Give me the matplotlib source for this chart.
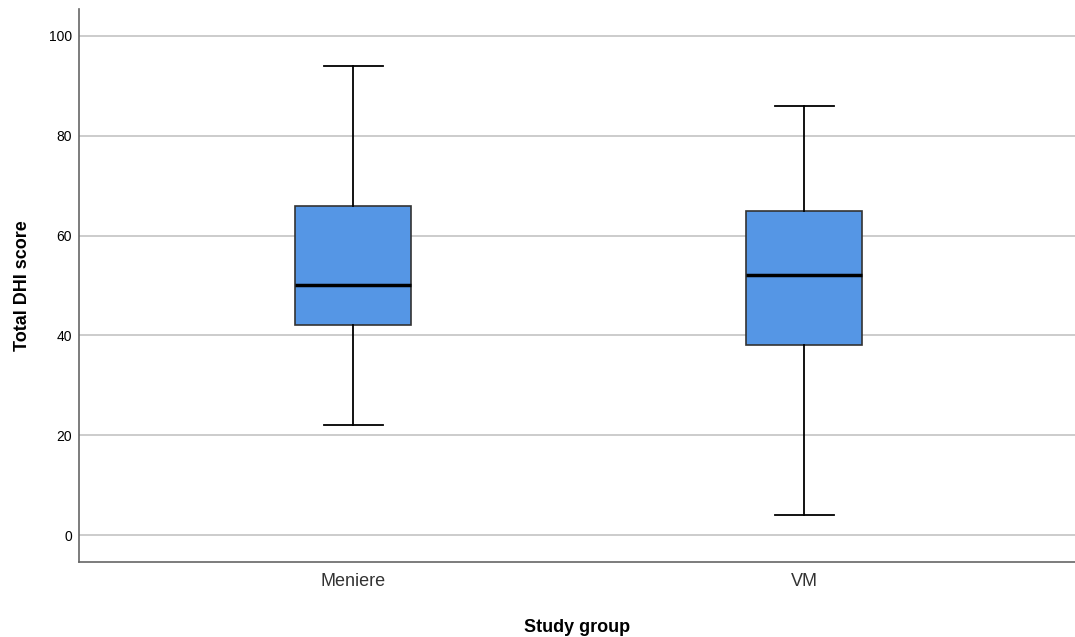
import numpy as np
import matplotlib
matplotlib.use("Agg")
import matplotlib.pyplot as plt

groups = ["Meniere", "VM"]
whisker_low = [22, 4]
q1 = [42, 38]
medians = [50, 52]
q3 = [66, 65]
whisker_high = [94, 86]
y_ticks = [0, 20, 40, 60, 80, 100]

plt.rcParams['font.family'] = ['Liberation Sans', 'DejaVu Sans']

stats = []
for i, g in enumerate(groups):
    stats.append({"label": g, "whislo": whisker_low[i], "q1": q1[i], "med": medians[i],
                  "q3": q3[i], "whishi": whisker_high[i], "fliers": []})

fig = plt.figure(figsize=(10.75, 6.37), dpi=100)
ax = fig.add_axes([0.0735, 0.1177, 0.9265, 0.8683])
ax.set_axisbelow(True)
ax.yaxis.grid(True, color="#c8c8c8", linewidth=1.3)

ax.bxp(stats, positions=[1, 2], widths=0.257, capwidths=0.13, patch_artist=True,
       boxprops=dict(facecolor="#5596e5", edgecolor="#333333", linewidth=1.2),
       medianprops=dict(color="black", linewidth=2.5),
       whiskerprops=dict(color="black", linewidth=1.3),
       capprops=dict(color="black", linewidth=1.3))

ax.set_xlim(0.392, 2.60)
ax.set_ylim(-5.4, 105.4)
ax.set_yticks(y_ticks)
ax.set_xticks([1, 2])
ax.set_xticklabels(groups, fontsize=13, color="#333333")
ax.tick_params(axis="y", labelsize=10, length=0, pad=5)
ax.tick_params(axis="x", length=0, pad=8)
for s in ["top", "right"]:
    ax.spines[s].set_visible(False)
for s in ["left", "bottom"]:
    ax.spines[s].set_color("#666666")
    ax.spines[s].set_linewidth(1.2)

ax.set_xlabel("Study group", fontsize=13, fontweight="bold", labelpad=21)
ax.set_ylabel("Total DHI score", fontsize=13, fontweight="bold", labelpad=13)

fig.savefig("out.png", dpi=100)
